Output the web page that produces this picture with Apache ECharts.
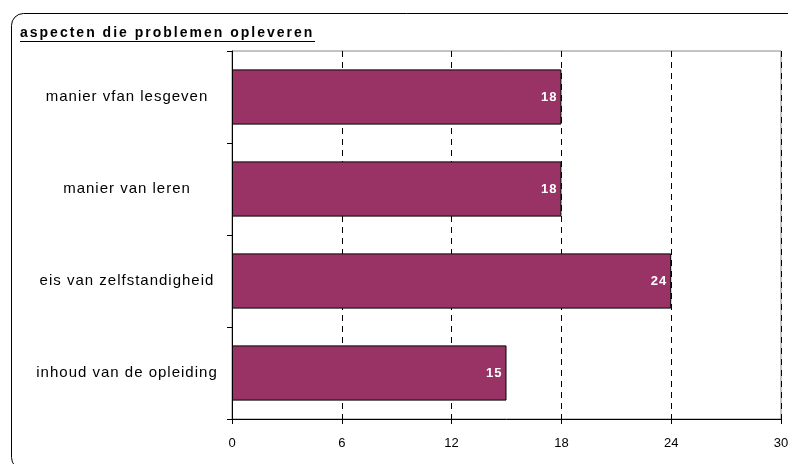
<!DOCTYPE html>
<html><head><meta charset="utf-8">
<script src="https://cdn.jsdelivr.net/npm/echarts@6/dist/echarts.min.js"></script>
<style>html,body{margin:0;padding:0;background:#fff;overflow:hidden}#c{width:788px;height:464px}</style>
</head><body><div id="c"></div>
<script>
const titleText = 'aspecten die problemen opleveren';
const categories = ['manier vfan lesgeven', 'manier van leren', 'eis van zelfstandigheid', 'inhoud van de opleiding'];
const values = [18, 18, 24, 15];
const xTicks = [0, 6, 12, 18, 24, 30];

// wide letter spacing like the original rendering (only for "Liberation Sans" text)
(function () {
  const P = CanvasRenderingContext2D.prototype;
  function sp(ctx) {
    const f = ctx.font || '';
    if (f.indexOf('Liberation') < 0) return '0px';
    if (/bold|700/.test(f) && /14px/.test(f)) return '2px';
    return '1px';
  }
  ['fillText', 'strokeText', 'measureText'].forEach(function (n) {
    const o = P[n];
    P[n] = function () {
      if ('letterSpacing' in this) this.letterSpacing = sp(this);
      return o.apply(this, arguments);
    };
  });
})();

const chart = echarts.init(document.getElementById('c'), null, {renderer: 'canvas', width: 788, height: 464});
chart.setOption({
  animation: false,
  backgroundColor: '#fff',
  grid: {left: 232, right: 7, top: 51, bottom: 45, show: true, borderColor: '#888', borderWidth: 1,
         containLabel: false, outerBoundsMode: 'none'},
  xAxis: {
    type: 'value', min: xTicks[0], max: xTicks[xTicks.length - 1], interval: 6,
    axisLine: {show: true, lineStyle: {color: '#000'}},
    axisTick: {show: true, length: 5, lineStyle: {color: '#000'}},
    axisLabel: {color: '#000', fontFamily: 'Arial', fontSize: 13, margin: 18},
    splitLine: {show: true, lineStyle: {color: '#000', type: [6, 5], width: 1}}
  },
  yAxis: {
    type: 'category', data: categories, inverse: true,
    axisLine: {show: true, lineStyle: {color: '#000'}},
    axisTick: {show: true, length: 5, lineStyle: {color: '#000'}},
    axisLabel: {color: '#000', fontFamily: 'Liberation Sans', fontSize: 15, align: 'center', margin: 105}
  },
  series: [{
    type: 'bar', data: values, barWidth: '60%',
    itemStyle: {color: '#993366', borderColor: '#000', borderWidth: 1},
    label: {show: true, position: 'insideRight', distance: 4, color: '#fff', fontWeight: 'bold', fontSize: 13, fontFamily: 'Liberation Sans'}
  }],
  graphic: [
    {type: 'rect', shape: {x: 11.5, y: 13.5, width: 800, height: 456, r: 12}, style: {fill: 'none', stroke: '#000', lineWidth: 1}, z: 100},
    {type: 'text', left: 20, top: 25, style: {text: titleText, font: 'bold 14px "Liberation Sans"', fill: '#000'}, z: 100},
    {type: 'line', shape: {x1: 20, y1: 41.5, x2: 315, y2: 41.5}, style: {stroke: '#000', lineWidth: 1}, z: 100}
  ]
});
</script></body></html>
